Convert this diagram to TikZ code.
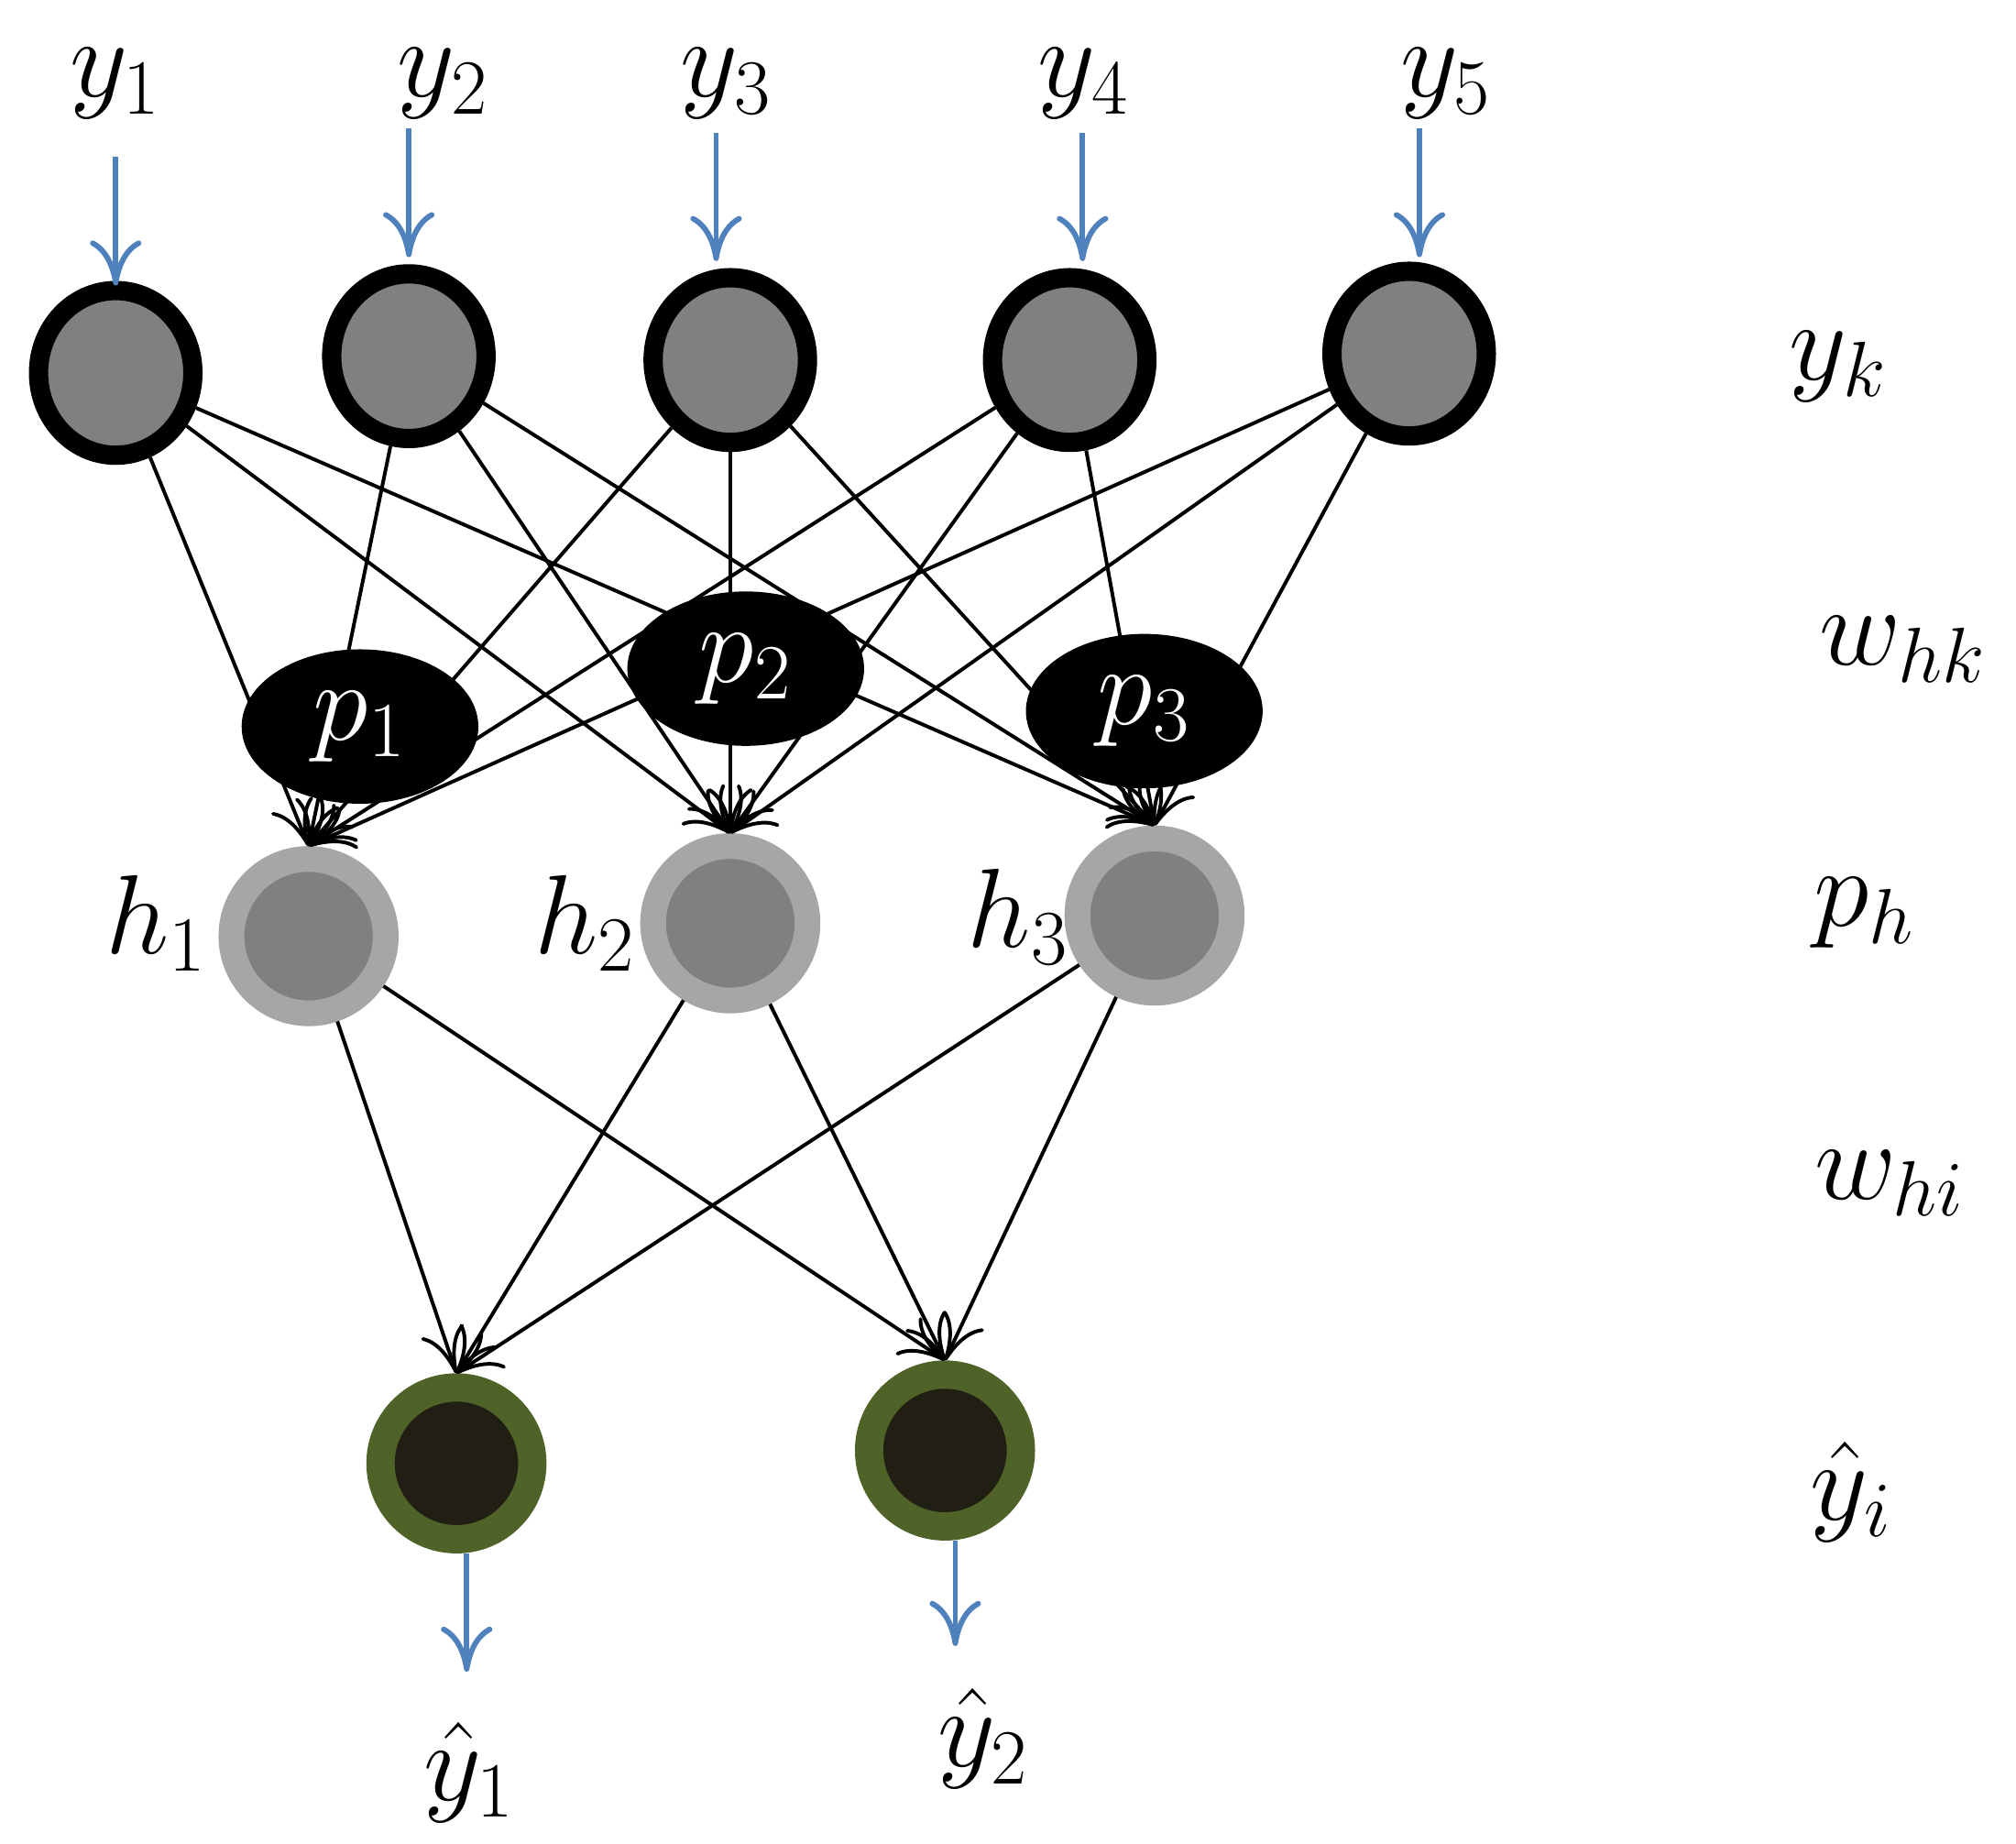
\documentclass[tikz,border=0pt]{standalone}
\usepackage{amsmath, amssymb}
\usetikzlibrary{shapes.geometric, arrows.meta}
\definecolor{ringgreen}{HTML}{4F6228}
\definecolor{coredark}{HTML}{211E14}
\definecolor{inblue}{HTML}{4F81BD}
\tikzset{
  innode/.style={ellipse, minimum width=1.2cm, minimum height=1.28cm, fill=black!50, draw=black, line width=0.15cm},
  pnode/.style={ellipse, minimum width=1.84cm, minimum height=1.2cm, fill=black, text=white, inner sep=0pt},
  hnode/.style={circle, minimum size=1.2cm, fill=black!50, draw=black!35, line width=0.2cm},
  outnode/.style={circle, minimum size=1.18cm, fill=coredark, draw=ringgreen, line width=0.22cm},
  lbl/.style={font=\fontsize{26}{30}\selectfont},
  edge/.style={-{To[length=3.5mm, width=3.5mm]}, thick, black},
  feed/.style={-{To[length=3.5mm, width=4mm]}, line width=1.2pt, inblue}
}
\begin{document}
\begin{tikzpicture}[x=0.01cm, y=-0.01cm]
\useasboundingbox (0,0) rectangle (1568,1434);
% input layer
\node [innode] (y1) at (90,290) {};
\node [innode] (y2) at (318,277) {};
\node [innode] (y3) at (568,280) {};
\node [innode] (y4) at (832,280) {};
\node [innode] (y5) at (1096,275) {};
% hidden layer
\node [hnode] (h1) at (240,728) {};
\node [hnode] (h2) at (568,718) {};
\node [hnode] (h3) at (898,712) {};
% output layer
\node [outnode] (o1) at (355,1138) {};
\node [outnode] (o2) at (735,1128) {};
% weights w_hk
\foreach \k in {1,...,5}
  \foreach \h in {1,2,3}
    \draw [edge] (y\k) -- (h\h.north);
% weights w_hi
\foreach \h in {1,2,3}
  \foreach \i in {1,2}
    \draw [edge] (h\h) -- (o\i.north);
% p nodes over the weights
\node [pnode, lbl] (p1) at (280,565) {$p_1$};
\node [pnode, lbl] (p2) at (580,520) {$p_2$};
\node [pnode, lbl] (p3) at (890,553) {$p_3$};
% inputs
\coordinate (in1) at (90,122);
\coordinate (in2) at (318,100);
\coordinate (in3) at (557,103);
\coordinate (in4) at (842,103);
\coordinate (in5) at (1104,100);
\foreach \k in {1,...,5}
  \draw [feed] (in\k) -- ++(0,100);
\node [lbl] (ly1) at (90,65) {$y_1$};
\node [lbl] (ly2) at (345,65) {$y_2$};
\node [lbl] (ly3) at (565,65) {$y_3$};
\node [lbl] (ly4) at (843,65) {$y_4$};
\node [lbl] (ly5) at (1125,65) {$y_5$};
% hidden labels
\node [lbl] (lh1) at (122,718) {$h_1$};
\node [lbl] (lh2) at (455,718) {$h_2$};
\node [lbl] (lh3) at (792,713) {$h_3$};
% outputs
\coordinate (out1) at (363,1300);
\coordinate (out2) at (743,1280);
\draw [feed] (o1.south) ++(8,0) -- (out1);
\draw [feed] (o2.south) ++(8,0) -- (out2);
\node [lbl] (lo1) at (365,1378) {$\hat{y}_1$};
\node [lbl] (lo2) at (765,1352) {$\hat{y}_2$};
% layer labels
\node [lbl] (lk) at (1430,285) {$y_k$};
\node [lbl] (lwhk) at (1480,505) {$w_{hk}$};
\node [lbl] (lph) at (1450,710) {$p_h$};
\node [lbl] (lwhi) at (1470,920) {$w_{hi}$};
\node [lbl] (lyi) at (1440,1160) {$\hat{y}_i$};
\end{tikzpicture}
\end{document}
